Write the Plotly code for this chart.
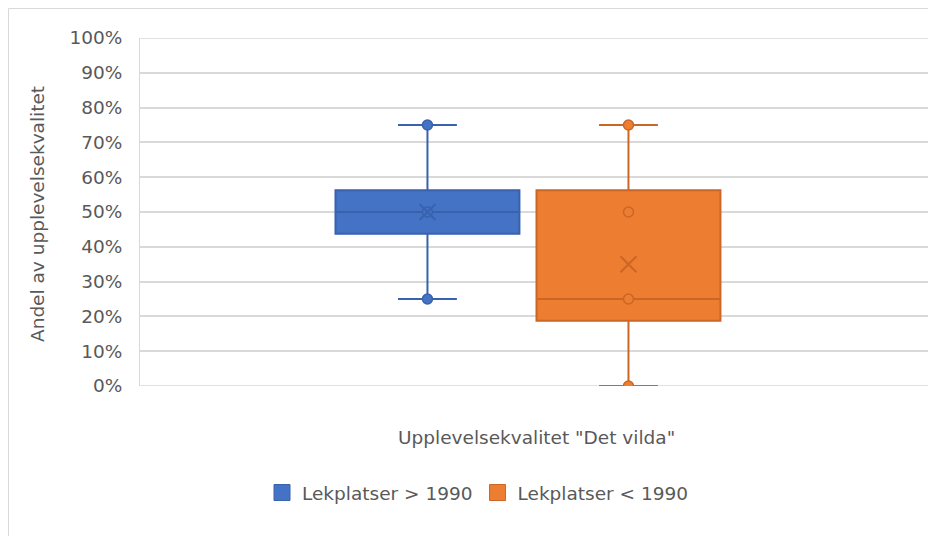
import plotly.graph_objects as go

# ---- data ----
series_names = ["Lekplatser > 1990", "Lekplatser < 1990"]
series_pos = [-0.5, 0.5]
q1 = [43.75, 18.75]
median = [50, 25]
q3 = [56.25, 56.25]
lower = [25, 0]
upper = [75, 75]
mean = [50, 35]
points = [[25, 50, 75], [0, 25, 50, 75]]
category_label = 'Upplevelsekvalitet "Det vilda"'
y_title = "Andel av upplevelsekvalitet"
y_ticks = [0, 10, 20, 30, 40, 50, 60, 70, 80, 90, 100]
y_tick_labels = [f"{v}%" for v in y_ticks]

fills = ["#4472C4", "#ED7D31"]
lines = ["#3862AE", "#CB6627"]

FONT = "DejaVu Sans"
FS = 18.5
TXT = "#595959"
fig = go.Figure()

for i in range(2):
    fig.add_trace(go.Box(
        x=[series_pos[i]], q1=[q1[i]], median=[median[i]], q3=[q3[i]],
        lowerfence=[lower[i]], upperfence=[upper[i]],
        width=0.915, whiskerwidth=0.32,
        fillcolor=fills[i], line=dict(color=lines[i], width=2),
        boxpoints=False, name=series_names[i], showlegend=False,
        hoverinfo="skip",
    ))
    fig.add_trace(go.Scatter(
        x=[series_pos[i]] * len(points[i]), y=points[i], mode="markers",
        marker=dict(symbol="circle", size=10, color=fills[i],
                    line=dict(color=lines[i], width=1.5)),
        showlegend=False, hoverinfo="skip",
    ))
    fig.add_trace(go.Scatter(
        x=[series_pos[i]], y=[mean[i]], mode="markers",
        marker=dict(symbol="x-thin-open", size=16, color=lines[i],
                    line=dict(color=lines[i], width=2)),
        showlegend=False, hoverinfo="skip",
    ))

# legend entries
for i in range(2):
    fig.add_trace(go.Scatter(
        x=[None], y=[None], mode="markers", name=series_names[i],
        marker=dict(symbol="square", size=20, color=fills[i],
                    line=dict(color=lines[i], width=1)),
        showlegend=True, hoverinfo="skip",
    ))

W, H = 936, 536
# figure drawn at window offset (8, 8)
L, R, T, B = 132, 16, 30, 158
pw, ph = W - L - R, H - T - B

def px(x):  # window x -> paper
    return (x - 140) / pw

def py(y):  # window y -> paper
    return (386 - y) / ph

fig.add_shape(type="rect", xref="paper", yref="paper",
              x0=px(8.5), x1=px(980), y0=py(8.5), y1=py(600),
              line=dict(color="#D9D9D9", width=1), layer="below")
for yv in (0, 100):
    fig.add_shape(type="line", xref="paper", yref="y", x0=0, x1=1, y0=yv, y1=yv,
                  line=dict(color="#D9D9D9", width=1.5), layer="below")

fig.add_annotation(text=category_label, xref="paper", yref="paper",
                   x=px(536), y=py(437), xanchor="center", yanchor="middle",
                   showarrow=False, font=dict(family=FONT, size=FS, color=TXT))
fig.add_annotation(text=y_title, xref="paper", yref="paper",
                   x=px(37), y=py(214), xanchor="center", yanchor="middle",
                   textangle=-90, showarrow=False,
                   font=dict(family=FONT, size=FS, color=TXT))

fig.update_layout(
    width=W, height=H,
    margin=dict(l=L, r=R, t=T, b=B),
    paper_bgcolor="white", plot_bgcolor="white",
    font=dict(family=FONT, color=TXT, size=FS),
    showlegend=True,
    legend=dict(orientation="h", x=px(478), xanchor="center", y=py(493), yanchor="middle",
                font=dict(family=FONT, size=FS, color=TXT), itemwidth=30,
                traceorder="normal", itemclick=False, itemdoubleclick=False),
    xaxis=dict(range=[-1.93, 1.99], showticklabels=False, showgrid=False, zeroline=False,
               ticks="", showline=False, fixedrange=True),
    yaxis=dict(range=[0, 100], tickvals=y_ticks, ticktext=y_tick_labels,
               showgrid=True, gridcolor="#D9D9D9", gridwidth=1.5, zeroline=False,
               showline=True, linecolor="#D9D9D9", linewidth=1, ticks="",
               ticklabelstandoff=13, fixedrange=True),
)

fig.write_html("out.html")
